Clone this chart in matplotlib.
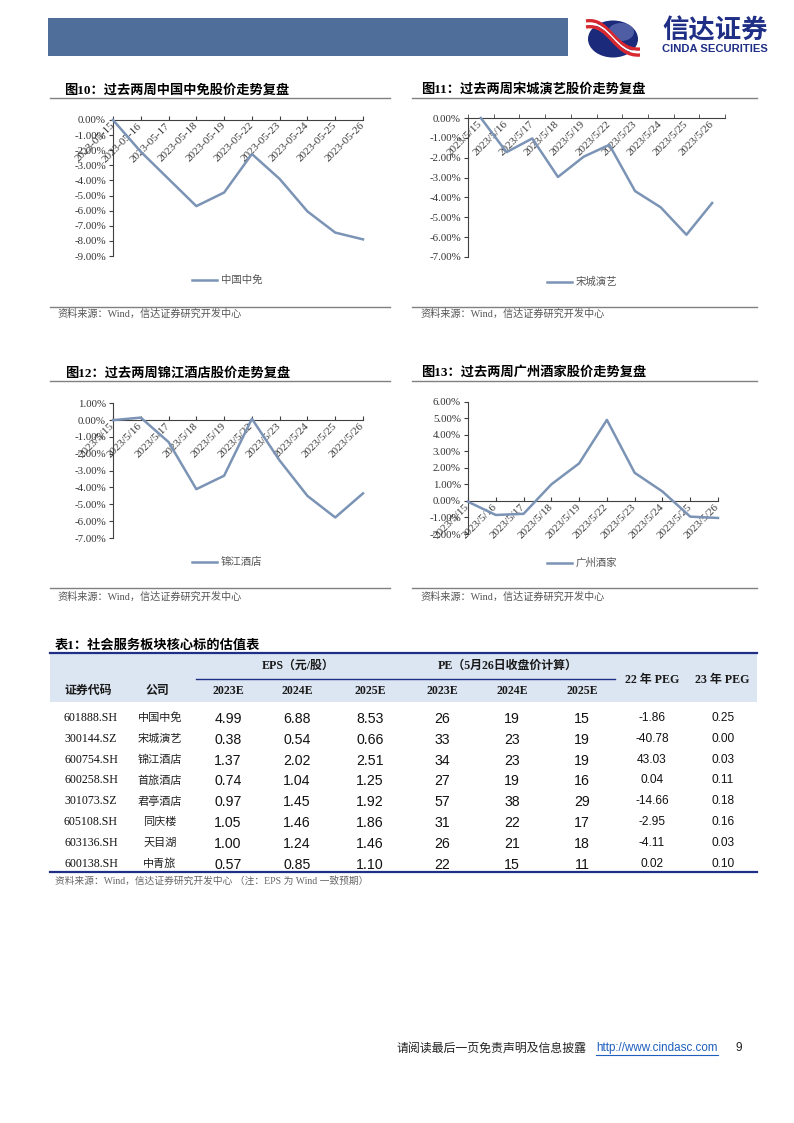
import numpy as np
import matplotlib.pyplot as plt
from matplotlib.patches import Rectangle, Ellipse, PathPatch
from matplotlib.path import Path
from matplotlib.lines import Line2D
from matplotlib.ticker import FuncFormatter

# ---- data ----
dates_dash = ['2023-05-15', '2023-05-16', '2023-05-17', '2023-05-18', '2023-05-19',
              '2023-05-22', '2023-05-23', '2023-05-24', '2023-05-25', '2023-05-26']
dates_slash = ['2023/5/15', '2023/5/16', '2023/5/17', '2023/5/18', '2023/5/19',
               '2023/5/22', '2023/5/23', '2023/5/24', '2023/5/25', '2023/5/26']
cdf = [0, -2.1, -3.9, -5.7, -4.8, -2.25, -3.9, -6.05, -7.45, -7.9]
songcheng = [0, -1.72, -1.03, -2.97, -1.95, -1.35, -3.68, -4.5, -5.88, -4.28]
jinjiang = [0, 0.15, -1.3, -4.1, -3.3, 0.08, -2.4, -4.5, -5.78, -4.35]
guangzhou = [-0.05, -0.85, -0.78, 1.0, 2.27, 4.9, 1.7, 0.57, -0.95, -1.03]

codes = ['601888.SH', '300144.SZ', '600754.SH', '600258.SH', '301073.SZ',
         '605108.SH', '603136.SH', '600138.SH']
names = ['中国中免', '宋城演艺', '锦江酒店', '首旅酒店', '君亭酒店', '同庆楼', '天目湖', '中青旅']
eps23 = [4.99, 0.38, 1.37, 0.74, 0.97, 1.05, 1.00, 0.57]
eps24 = [6.88, 0.54, 2.02, 1.04, 1.45, 1.46, 1.24, 0.85]
eps25 = [8.53, 0.66, 2.51, 1.25, 1.92, 1.86, 1.46, 1.10]
pe23 = [26, 33, 34, 27, 57, 31, 26, 22]
pe24 = [19, 23, 23, 19, 38, 22, 21, 15]
pe25 = [15, 19, 19, 16, 29, 17, 18, 11]
peg22 = [-1.86, -40.78, 43.03, 0.04, -14.66, -2.95, -4.11, 0.02]
peg23 = [0.25, 0.00, 0.03, 0.11, 0.18, 0.16, 0.03, 0.10]

W, H = 794, 1123
LINE = '#7b93b5'
AX = '#404040'
NAVY = '#1f2f86'
CJK = 'Noto Sans CJK SC'
SERIF = ['Liberation Serif', CJK]
SANS = 'Liberation Sans'

fig = plt.figure(figsize=(7.94, 11.23), dpi=100)


def fx(x):
    return x / W


def fy(y):
    return 1 - y / H


def hline(x0, x1, y, color='#808080', lw=0.8):
    fig.add_artist(Line2D([fx(x0), fx(x1)], [fy(y), fy(y)],
                          transform=fig.transFigure, color=color, lw=lw))


def txt(x, y, s, **kw):
    kw.setdefault('va', 'center')
    fig.text(fx(x), fy(y), s, **kw)


# ---- page header ----
fig.add_artist(Rectangle((fx(48), fy(56)), 520 / W, 38 / H, transform=fig.transFigure,
                         color='#4f6e99', lw=0))
fig.add_artist(Ellipse((fx(613), fy(39)), 50 / W, 37 / H, transform=fig.transFigure,
                       color='#1b2a7a', lw=0))
fig.add_artist(Ellipse((fx(621), fy(32)), 26 / W, 18 / H, transform=fig.transFigure,
                       color='#7b8ac8', lw=0, alpha=0.55))
for off, col, lw in [(-3, '#d7282f', 2.4), (0, 'white', 1.4), (3, '#d7282f', 2.4)]:
    verts = [(fx(586), fy(24 + off)), (fx(610), fy(20 + off)),
             (fx(614), fy(54 + off)), (fx(640), fy(52 + off))]
    p = Path(verts, [Path.MOVETO, Path.CURVE4, Path.CURVE4, Path.CURVE4])
    fig.add_artist(PathPatch(p, transform=fig.transFigure, fill=False, ec=col, lw=lw))
txt(715, 31, '信达证券', ha='center', fontsize=19, family=CJK, weight='bold', color=NAVY)
txt(715, 49, 'CINDA SECURITIES', ha='center', fontsize=8.1, family=SANS,
    weight='bold', color=NAVY)


# ---- line charts ----
def chart(x0, x1, ytop, ybot, ymax, ymin, dates, vals, between):
    ax = fig.add_axes([fx(x0), fy(ybot), (x1 - x0) / W, (ybot - ytop) / H])
    ax.spines['bottom'].set_position(('data', 0))
    n = len(vals)
    xs = np.arange(n)
    ax.plot(xs, vals, color=LINE, lw=1.8, zorder=3, clip_on=False)
    ax.set_ylim(ymin, ymax)
    ax.set_xticks(xs)
    if between:
        ax.set_xlim(-0.5, n - 0.5)
        ax.set_xticks(np.arange(n + 1) - 0.5, minor=True)
        ax.tick_params(axis='x', which='major', length=0, pad=3)
        ax.tick_params(axis='x', which='minor', length=3, direction='in', color=AX)
    else:
        ax.set_xlim(0, n - 1)
        ax.tick_params(axis='x', which='major', length=3, direction='in', color=AX, pad=3)
    ax.set_xticklabels(dates, rotation=45, ha='right', va='center', rotation_mode='anchor',
                       fontsize=8, family='Liberation Serif', color='#3a3a3a')
    ax.set_yticks(np.arange(ymin, ymax + 0.5, 1))
    ax.yaxis.set_major_formatter(FuncFormatter(lambda v, p: '%.2f%%' % v))
    ax.tick_params(axis='y', length=3, color=AX, pad=2, labelsize=7.8, labelcolor='#333333')
    for lab in ax.get_yticklabels():
        lab.set_family('Liberation Serif')
    for s in ['top', 'right']:
        ax.spines[s].set_visible(False)
    for s in ['left', 'bottom']:
        ax.spines[s].set_color(AX)
        ax.spines[s].set_linewidth(0.8)
    ax.set_facecolor('none')
    return ax


def panel(xl, xr, title_x, ytitle, yrule, ybot_rule, ysrc, src_x, title):
    txt(title_x, ytitle, title, fontsize=9.5, family=['Liberation Serif', CJK],
        weight='bold', color='black')
    hline(xl, xr, yrule, '#808080', 1.0)
    hline(xl, xr, ybot_rule, '#808080', 1.0)
    txt(src_x, ysrc, '资料来源：Wind，信达证券研究开发中心', fontsize=7.3, family=SERIF,
        color='#555555')


def legend(x, y, label):
    hline(x, x + 25, y, LINE, 1.8)
    txt(x + 29, y, label, fontsize=7.5, family=CJK, color='#555555')


panel(50, 390, 64, 90, 97.5, 306.5, 314, 57, '图10：过去两周中国中免股价走势复盘')
panel(412, 757, 421, 89, 97.5, 306.5, 314, 420, '图11：过去两周宋城演艺股价走势复盘')
panel(50, 390, 65, 373, 380.5, 588, 597, 57, '图12：过去两周锦江酒店股价走势复盘')
panel(412, 757, 421, 372, 380.5, 588, 597, 420, '图13：过去两周广州酒家股价走势复盘')

chart(113, 363, 120, 256, 0, -9, dates_dash, cdf, False)
chart(468, 725, 118, 257, 0, -7, dates_slash, songcheng, True)
chart(113, 363, 403.3, 538, 1, -7, dates_slash, jinjiang, False)
chart(468, 718, 401.7, 534, 6, -2, dates_slash, guangzhou, False)

legend(192, 280, '中国中免')
legend(547, 282, '宋城演艺')
legend(192, 562, '锦江酒店')
legend(547, 563, '广州酒家')

# ---- table ----
txt(55, 645, '表1：社会服务板块核心标的估值表', fontsize=9.5, family=SERIF,
    weight='bold', color='black')
fig.add_artist(Rectangle((fx(50), fy(702)), 707 / W, 49 / H, transform=fig.transFigure,
                         color='#dce6f2', lw=0))
hline(50, 757, 653, NAVY, 1.6)
hline(196, 615, 678.5, NAVY, 1.0)
hline(50, 757, 871.5, NAVY, 1.6)

hdr = dict(fontsize=8.6, family=SERIF, weight='bold', color='#1a1a1a', ha='center')
txt(88, 691, '证券代码', **hdr)
txt(157, 691, '公司', **hdr)
txt(298, 666, 'EPS（元/股）', **hdr)
txt(508, 666, 'PE（5月26日收盘价计算）', **hdr)
col_x = [228, 297, 370, 442, 512, 582]
for cx, lab in zip(col_x, ['2023E', '2024E', '2025E', '2023E', '2024E', '2025E']):
    txt(cx, 691, lab, **hdr)
txt(652, 680, '22 年 PEG', **hdr)
txt(722, 680, '23 年 PEG', **hdr)

for i in range(len(codes)):
    y = 718 + 20.8 * i
    txt(91, y, codes[i], ha='center', fontsize=8.6, family='Liberation Serif', color='#111111')
    txt(160, y, names[i], ha='center', fontsize=8, family=CJK, color='#222222')
    row = ['%.2f' % eps23[i], '%.2f' % eps24[i], '%.2f' % eps25[i],
           '%d' % pe23[i], '%d' % pe24[i], '%d' % pe25[i]]
    for cx, s in zip(col_x, row):
        txt(cx, y + 1, s, ha='center', fontsize=10.2, family=SANS, color='#111111')
    txt(652, y, '%.2f' % peg22[i], ha='center', fontsize=8.6, family=SANS, color='#111111')
    txt(723, y, '%.2f' % peg23[i], ha='center', fontsize=8.6, family=SANS, color='#111111')

txt(55, 881, '资料来源：Wind，信达证券研究开发中心 （注：EPS 为 Wind 一致预期）',
    fontsize=7, family=SERIF, color='#666666')

# ---- footer ----
txt(397, 1048, '请阅读最后一页免责声明及信息披露', fontsize=8.6, family=CJK, color='#222222')
txt(596, 1048, 'http://www.cindasc.com', fontsize=8.4, family=SANS, color='#1f5fbf')
hline(596, 718, 1054.5, '#1f5fbf', 0.8)
txt(735, 1048, '9', fontsize=8.6, family=SANS, color='#222222')

fig.savefig('out.png', dpi=100)
